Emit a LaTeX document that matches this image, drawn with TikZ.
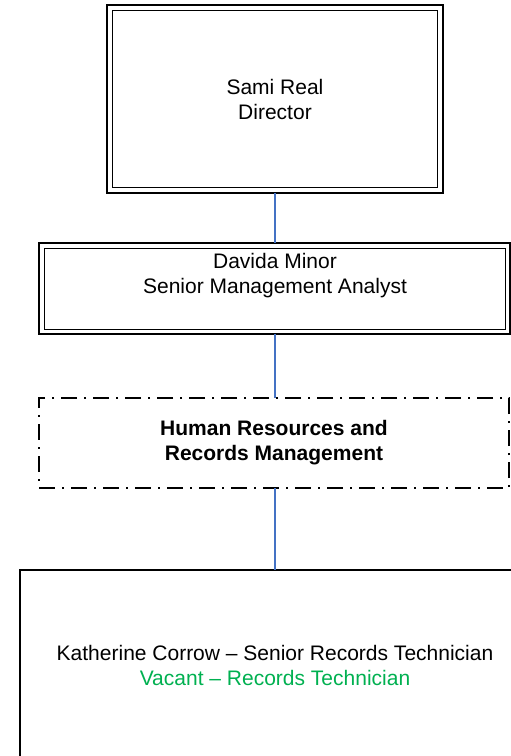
\documentclass[tikz,border=0pt]{standalone}
\usepackage{fontspec}
\setmainfont{Liberation Sans}
\definecolor{connblue}{HTML}{4472C4}
\definecolor{vacgreen}{HTML}{00B050}
\begin{document}
\begin{tikzpicture}[x=1pt,y=-1pt,
  every node/.style={font=\fontsize{21}{25}\selectfont, align=center, inner sep=0pt, outer sep=0pt},
  outerbox/.style={draw, line width=2pt, rectangle},
  innerline/.style={line width=1pt},
  conn/.style={draw=connblue, line width=1.5pt},
  dashbox/.style={draw, line width=1.5pt, dash pattern=on 16pt off 7pt on 2pt off 7pt},
  plainbox/.style={draw, line width=1.5pt}]
\useasboundingbox (0,0) rectangle (511,756);
% top box
\node[outerbox, minimum width=336pt, minimum height=188pt] (top) at (275,99) {Sami Real\\Director};
\draw[innerline] ([shift={(5.5pt,-5.5pt)}]top.north west) rectangle ([shift={(-5.5pt,5.5pt)}]top.south east);
% second box
\node[outerbox, minimum width=471pt, minimum height=91pt] (mid) at (274.5,288.5) {};
\draw[innerline] ([shift={(5pt,-5pt)}]mid.north west) rectangle ([shift={(-5pt,5pt)}]mid.south east);
\node (midtext) at (275,276) {Davida Minor\\Senior Management Analyst};
% dash-dot box
\node[dashbox, minimum width=470pt, minimum height=90pt, font=\fontsize{21}{25}\selectfont\bfseries] (hr) at (274,443) {Human Resources and\\Records Management};
% bottom box
\node[plainbox, minimum width=510pt, minimum height=190pt] (tech) at (275,665) {Katherine Corrow – Senior Records Technician\\\textcolor{vacgreen}{Vacant – Records Technician}};
% connectors
\draw[conn] (top.south) -- (top.south |- mid.north);
\draw[conn] (top.south |- mid.south) -- (top.south |- hr.north);
\draw[conn] (top.south |- hr.south) -- (top.south |- tech.north);
\end{tikzpicture}
\end{document}
